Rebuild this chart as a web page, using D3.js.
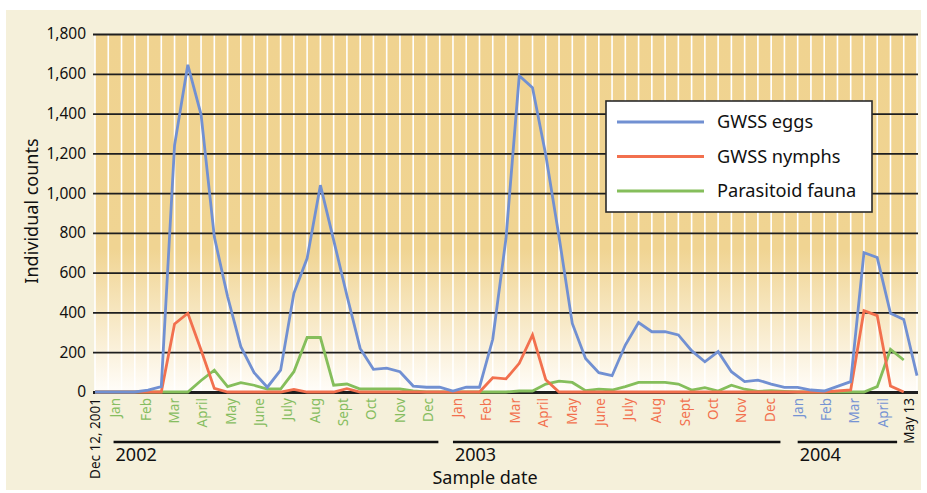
<!DOCTYPE html>
<html>
<head>
<meta charset="utf-8">
<script src="https://cdn.jsdelivr.net/npm/d3@7"></script>
<style>
  html, body { margin: 0; padding: 0; background: #fff; }
  svg { display: block; font-family: 'Noto Sans', 'Open Sans', sans-serif; }
</style>
</head>
<body>
<figure id="chart" style="margin:0"></figure>
<script>
// sample-by-sample counts (about two samples per month, Dec 12 2001 - May 13 2004)
const eggs = [0, 0, 0, 0, 10, 27, 1240, 1645, 1395, 780, 480, 228, 97, 24, 110, 496,
  672, 1040, 764, 485, 219, 114, 120, 102, 30, 24, 24, 5, 24, 24, 265, 773, 1590,
  1530, 1192, 781, 345, 169, 97, 82, 236, 349, 303, 303, 287, 208, 152, 203, 102,
  52, 60, 40, 23, 23, 10, 5, 28, 52, 701, 676, 396, 365, 82];
const nymphs = [0, 0, 0, 0, 0, 0, 342, 396, 211, 18, 0, 0, 0, 0, 0, 13, 0, 0, 0, 17,
  0, 0, 0, 0, 0, 0, 0, 0, 0, 0, 72, 66, 144, 287, 62, 0, 0, 0, 0, 0, 0, 0, 0, 0, 0,
  0, 0, 0, 0, 0, 0, 0, 0, 0, 0, 0, 5, 10, 409, 384, 30, 0];
const parasitoids = [0, 0, 0, 0, 0, 0, 0, 0, 58, 110, 27, 47, 34, 15, 15, 102, 274,
  274, 34, 40, 15, 15, 15, 15, 5, 0, 0, 0, 0, 0, 0, 0, 5, 5, 40, 55, 48, 7, 14, 10,
  27, 48, 48, 48, 40, 10, 22, 5, 34, 14, 3, 7, 3, 0, 0, 0, 0, 0, 0, 27, 214, 161];

const seriesNames = ['GWSS eggs', 'GWSS nymphs', 'Parasitoid fauna'];
const seriesColors = ['#7190d2', '#f2704e', '#85be5b'];

const yTicks = [0, 200, 400, 600, 800, 1000, 1200, 1400, 1600, 1800];

// month labels, positioned on the sample axis
const monthLabels = ['Jan', 'Feb', 'Mar', 'April', 'May', 'June', 'July', 'Aug', 'Sept', 'Oct', 'Nov', 'Dec',
  'Jan', 'Feb', 'Mar', 'April', 'May', 'June', 'July', 'Aug', 'Sept', 'Oct', 'Nov', 'Dec',
  'Jan', 'Feb', 'Mar', 'April'];
const monthPos = [1.5, 3.9, 5.96, 8.07, 10.3, 12.37, 14.48, 16.6, 18.7, 20.87, 23.0, 25.1,
  27.34, 29.54, 31.67, 33.79, 36.03, 38.08, 40.2, 42.36, 44.5, 46.6, 48.77, 50.9,
  53.04, 55.18, 57.3, 59.43];
const monthYear = [2002, 2002, 2002, 2002, 2002, 2002, 2002, 2002, 2002, 2002, 2002, 2002,
  2003, 2003, 2003, 2003, 2003, 2003, 2003, 2003, 2003, 2003, 2003, 2003,
  2004, 2004, 2004, 2004];
const yearColors = {2002: '#86bd60', 2003: '#f2704e', 2004: '#7593d3'};

const years = ['2002', '2003', '2004'];
const yearStart = [1.4, 27.0, 53.0];
const yearEnd = [25.9, 51.7, 60.5];

const width = 927;
const height = 493;
const margin = {left: 95, right: 10, top: 34, bottom: 101};

const svg = d3.select('figure#chart')
  .append('svg')
  .attr('width', width)
  .attr('height', height);

const x = d3.scaleLinear()
  .domain([0, eggs.length - 1])
  .range([margin.left, width - margin.right]);

const y = d3.scaleLinear()
  .domain([0, 1800])
  .range([height - margin.bottom, margin.top]);

// panel
svg.append('rect')
  .attr('x', 6).attr('y', 10)
  .attr('width', 915).attr('height', 480)
  .attr('fill', '#f5f0da');

const defs = svg.append('defs');
const grad = defs.append('linearGradient')
  .attr('id', 'bg')
  .attr('x1', 0).attr('y1', 0).attr('x2', 0).attr('y2', 1);
grad.append('stop').attr('offset', '0%').attr('stop-color', '#f0d390');
grad.append('stop').attr('offset', '60%').attr('stop-color', '#f0d492');
grad.append('stop').attr('offset', '100%').attr('stop-color', '#fffdf9');

svg.append('rect')
  .attr('x', x(0)).attr('y', y(1800))
  .attr('width', x(eggs.length - 1) - x(0))
  .attr('height', y(0) - y(1800))
  .attr('fill', 'url(#bg)');

// white sample lines
svg.append('g')
  .attr('stroke', '#fff')
  .attr('stroke-width', 1.6)
  .selectAll('line')
  .data(d3.range(eggs.length))
  .join('line')
  .attr('x1', d => x(d)).attr('x2', d => x(d))
  .attr('y1', y(1800)).attr('y2', y(0));

// gridlines + y labels
const yAxis = svg.append('g')
  .attr('transform', `translate(${margin.left - 2},0)`)
  .call(d3.axisLeft(y)
    .tickValues(yTicks)
    .tickFormat(d3.format(','))
    .tickSize(-(x(eggs.length - 1) - x(0) + 3))
    .tickPadding(7));
yAxis.select('.domain').remove();
yAxis.selectAll('.tick line')
  .attr('stroke', '#1e1e1e')
  .attr('stroke-width', d => d === 0 ? 3 : 1.8);
yAxis.selectAll('.tick text')
  .attr('fill', '#111')
  .attr('font-size', 15.5)
  .attr('font-family', "'Noto Sans', sans-serif");

// series
const series = [parasitoids, nymphs, eggs];
const colorsDrawn = [seriesColors[2], seriesColors[1], seriesColors[0]];
const line = d3.line()
  .x((d, i) => x(i))
  .y(d => y(d));

svg.append('g')
  .selectAll('path')
  .data(series)
  .join('path')
  .attr('d', d => line(d))
  .attr('fill', 'none')
  .attr('stroke', (d, i) => colorsDrawn[i])
  .attr('stroke-width', 2.8)
  .attr('stroke-linejoin', 'miter');

// x labels
const xg = svg.append('g');
xg.selectAll('text.month')
  .data(monthLabels)
  .join('text')
  .attr('class', 'month')
  .attr('transform', (d, i) => `translate(${x(monthPos[i])},398) rotate(-90)`)
  .attr('dy', '0.35em')
  .attr('text-anchor', 'end')
  .attr('font-size', 13.5)
  .attr('fill', (d, i) => yearColors[monthYear[i]])
  .text(d => d);

xg.append('text')
  .attr('transform', `translate(${x(0)},398) rotate(-90)`)
  .attr('dy', '0.35em')
  .attr('text-anchor', 'end')
  .attr('font-size', 13.5)
  .attr('fill', '#111')
  .text('Dec 12, 2001');

xg.append('text')
  .attr('transform', `translate(${x(61.4)},398) rotate(-90)`)
  .attr('dy', '0.35em')
  .attr('text-anchor', 'end')
  .attr('font-size', 13.5)
  .attr('fill', '#111')
  .text('May 13');

// year bars
xg.selectAll('line.year')
  .data(years)
  .join('line')
  .attr('class', 'year')
  .attr('x1', (d, i) => x(yearStart[i]))
  .attr('x2', (d, i) => x(yearEnd[i]))
  .attr('y1', 442).attr('y2', 442)
  .attr('stroke', '#111')
  .attr('stroke-width', 2.6);

xg.selectAll('text.year')
  .data(years)
  .join('text')
  .attr('class', 'year')
  .attr('x', (d, i) => x(yearStart[i]) + 2)
  .attr('y', 461)
  .attr('font-size', 18)
  .attr('fill', '#111')
  .text(d => d);

svg.append('text')
  .attr('x', 485).attr('y', 484)
  .attr('text-anchor', 'middle')
  .attr('font-size', 18)
  .attr('fill', '#111')
  .text('Sample date');

svg.append('text')
  .attr('transform', `translate(38,${(y(0) + y(1800)) / 2 - 2}) rotate(-90)`)
  .attr('text-anchor', 'middle')
  .attr('font-size', 18)
  .attr('fill', '#111')
  .text('Individual counts');

// legend
const legend = svg.append('g').attr('transform', 'translate(606,101)');
legend.append('rect')
  .attr('width', 266).attr('height', 111)
  .attr('fill', '#fff')
  .attr('stroke', '#2a2a2a')
  .attr('stroke-width', 1.6);
const item = legend.selectAll('g.item')
  .data(seriesNames)
  .join('g')
  .attr('class', 'item')
  .attr('transform', (d, i) => `translate(0,${21 + i * 34.5})`);
item.append('line')
  .attr('x1', 11).attr('x2', 98)
  .attr('stroke', (d, i) => seriesColors[i])
  .attr('stroke-width', 2.8);
item.append('text')
  .attr('x', 111)
  .attr('dy', '0.35em')
  .attr('font-size', 18.2)
  .attr('fill', '#111')
  .text(d => d);
</script>
</body>
</html>
